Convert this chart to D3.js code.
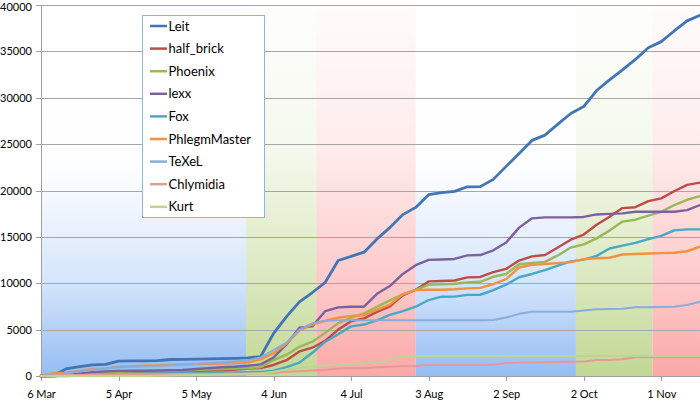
<!DOCTYPE html>
<html lang="en">
<head>
  <meta charset="UTF-8">
  <title>Cumulative totals</title>
  <script src="https://cdn.jsdelivr.net/npm/d3@7"></script>
  <style>
    body { margin: 0; background: #fff; }
    .axis text { font-family: Lato, "Open Sans", sans-serif; font-size: 11px; fill: #000; }
    .axis path, .axis line { stroke: #a0a0a0; shape-rendering: crispEdges; }
    .grid line { stroke: #a6a6a6; shape-rendering: crispEdges; }
    .legend text { font-family: Lato, "Open Sans", sans-serif; font-size: 13px; fill: #000; }
  </style>
</head>
<body>
<script>
  // sampled every 5 days from 6 Mar to 16 Nov
  const leit = [0, 50, 800, 1000, 1200, 1250, 1600, 1620, 1640, 1650, 1780, 1800, 1820, 1850, 1880, 1900, 1950, 2100,
    4600, 6400, 8000, 9000, 10100, 12450, 12900, 13350, 14780, 16000, 17400, 18180, 19550, 19760, 19900, 20400, 20420,
    21200, 22600, 24000, 25400, 25970, 27150, 28300, 29050, 30780, 31920, 33000, 34130, 35400, 36050, 37200, 38290, 38900];
  const halfBrick = [0, 0, 80, 150, 250, 350, 420, 450, 470, 480, 500, 520, 550, 580, 620, 700, 800, 850,
    1190, 1700, 2650, 3050, 3800, 5000, 5900, 6220, 6900, 7500, 8700, 9300, 10200, 10250, 10300, 10630, 10680,
    11200, 11550, 12450, 12900, 13040, 13850, 14700, 15250, 16300, 17170, 18100, 18200, 18850, 19150, 19920, 20600, 20850];
  const phoenix = [0, 0, 100, 200, 300, 400, 450, 480, 500, 520, 550, 600, 650, 700, 750, 800, 850, 950,
    1720, 2300, 3150, 3700, 4650, 5700, 6300, 6760, 7470, 8150, 8800, 9280, 9830, 9880, 9950, 10080, 10160,
    10700, 11000, 12050, 12200, 12300, 13000, 13850, 14200, 14840, 15680, 16650, 16850, 17300, 17700, 18430, 19000, 19400];
  const lexx = [0, 0, 100, 250, 400, 500, 550, 560, 570, 600, 620, 650, 750, 850, 950, 1000, 1100, 1250,
    2000, 3400, 5200, 5350, 7000, 7400, 7470, 7470, 8860, 9700, 11000, 11950, 12520, 12560, 12620, 13000, 13040,
    13550, 14400, 16000, 17000, 17100, 17100, 17100, 17150, 17420, 17480, 17530, 17710, 17710, 17710, 17710, 17890, 18430];
  const fox = [0, 0, 0, 50, 100, 150, 200, 220, 250, 260, 270, 280, 300, 320, 350, 380, 400, 450,
    570, 950, 1450, 2500, 3700, 4500, 5350, 5550, 6000, 6600, 7000, 7470, 8190, 8550, 8560, 8750, 8760,
    9250, 9850, 10650, 11000, 11420, 11900, 12350, 12550, 12950, 13750, 14050, 14350, 14750, 15100, 15700, 15810, 15810];
  const phlegmMaster = [0, 300, 350, 550, 750, 800, 1000, 1050, 1100, 1150, 1200, 1250, 1280, 1320, 1350, 1400, 1450, 1800,
    2450, 3500, 4900, 5550, 5950, 6300, 6480, 6550, 7150, 7700, 8800, 9270, 9300, 9300, 9350, 9450, 9500,
    9900, 10450, 11700, 11980, 12080, 12170, 12280, 12600, 12700, 12750, 13100, 13150, 13200, 13250, 13290, 13450, 13950];
  const texel = [0, 100, 300, 500, 700, 800, 950, 1000, 1050, 1100, 1150, 1200, 1300, 1400, 1500, 1600, 1700,
    2000, 2800, 3600, 5000, 5700, 5950, 6000, 6000, 6000, 6000, 6000, 6000, 6000, 6000, 6000, 6000, 6000, 6000,
    6030, 6300, 6700, 6930, 6930, 6930, 6930, 7050, 7200, 7220, 7250, 7400, 7420, 7450, 7470, 7650, 8010];
  const chlymidia = [0, 50, 100, 120, 150, 160, 180, 190, 200, 200, 210, 220, 230, 240, 250, 260, 280, 300,
    320, 450, 520, 600, 650, 800, 830, 830, 950, 1000, 1050, 1080, 1190, 1190, 1190, 1190, 1190,
    1200, 1400, 1440, 1460, 1480, 1500, 1530, 1560, 1720, 1720, 1800, 2020, 2020, 2020, 2020, 2020, 2020];
  const kurt = [0, 0, 0, 0, 0, 0, 0, 0, 0, 20, 50, 80, 100, 120, 150, 200, 250, 300,
    450, 700, 900, 1000, 1150, 1250, 1300, 1370, 1430, 1800, 2150, 2150, 2150, 2150, 2150, 2150, 2150,
    2150, 2150, 2150, 2150, 2150, 2150, 2150, 2150, 2150, 2150, 2150, 2150, 2150, 2150, 2150, 2150, 2150];

  const seriesNames = ['Leit', 'half_brick', 'Phoenix', 'lexx', 'Fox', 'PhlegmMaster', 'TeXeL', 'Chlymidia', 'Kurt'];
  const seriesValues = [leit, halfBrick, phoenix, lexx, fox, phlegmMaster, texel, chlymidia, kurt];
  const seriesColors = ['#4275b6', '#be4b48', '#98b954', '#7d60a0', '#46aac5', '#f39140', '#88acdc', '#e39a98', '#bcd68f'];
  const seriesWidths = [2.8, 2.4, 2.4, 2.4, 2.4, 2.4, 2, 2, 2];

  const xTickLabels = ['2011-03-06', '2011-04-05', '2011-05-05', '2011-06-04', '2011-07-04',
    '2011-08-03', '2011-09-02', '2011-10-02', '2011-11-01'];
  const yTickLabels = [0, 5000, 10000, 15000, 20000, 25000, 30000, 35000, 40000];

  // shaded periods in the background
  const bandEdges = ['2011-03-06 00:00', '2011-05-24 08:00', '2011-06-20 12:00', '2011-07-29 00:00',
    '2011-09-29 00:00', '2011-10-28 14:00', '2011-11-16 00:00'];
  const bandKinds = ['blue', 'green', 'red', 'blue', 'green', 'red'];

  const width = 700;
  const height = 401;
  const plotLeft = 41, plotRight = 700, plotTop = 5, plotBottom = 376;

  const parseDay = d3.utcParse('%Y-%m-%d');
  const parseTime = d3.utcParse('%Y-%m-%d %H:%M');
  const start = parseDay('2011-03-06');
  const end = parseDay('2011-11-16');
  const dates = d3.utcDay.range(start, d3.utcDay.offset(end, 1), 5);

  const x = d3.scaleUtc().domain([start, end]).range([plotLeft, plotRight]);
  const y = d3.scaleLinear().domain([0, 40000]).range([plotBottom, plotTop]);

  const svg = d3.select('body').append('svg')
    .attr('width', width)
    .attr('height', height);

  // gradients for the bands
  const gradStops = {
    blue: { color: '#8fb9f3', stops: [[0, 0], [0.45, 0.02], [0.75, 0.38], [1, 0.95]] },
    green: { color: '#bcd48a', stops: [[0, 0.02], [0.4, 0.16], [0.75, 0.55], [1, 0.92]] },
    red: { color: '#fba3a3', stops: [[0, 0.04], [0.4, 0.22], [0.75, 0.58], [1, 0.95]] }
  };
  const defs = svg.append('defs');
  Object.keys(gradStops).forEach(k => {
    const g = defs.append('linearGradient')
      .attr('id', 'grad-' + k)
      .attr('gradientUnits', 'userSpaceOnUse')
      .attr('x1', 0).attr('x2', 0)
      .attr('y1', plotTop).attr('y2', plotBottom);
    gradStops[k].stops.forEach(s => {
      g.append('stop')
        .attr('offset', s[0])
        .attr('stop-color', gradStops[k].color)
        .attr('stop-opacity', s[1]);
    });
  });

  svg.append('g').selectAll('rect')
    .data(bandKinds)
    .enter()
    .append('rect')
    .attr('x', (d, i) => x(parseTime(bandEdges[i])))
    .attr('width', (d, i) => x(parseTime(bandEdges[i + 1])) - x(parseTime(bandEdges[i])))
    .attr('y', plotTop)
    .attr('height', plotBottom - plotTop)
    .attr('fill', d => 'url(#grad-' + d + ')');

  // gridlines
  svg.append('g')
    .attr('class', 'grid')
    .selectAll('line')
    .data(yTickLabels.filter(v => v > 0))
    .enter()
    .append('line')
    .attr('x1', plotLeft).attr('x2', plotRight)
    .attr('y1', d => Math.round(y(d)) + 0.5)
    .attr('y2', d => Math.round(y(d)) + 0.5);

  // axes
  const yAxis = d3.axisLeft(y).tickValues(yTickLabels).tickFormat(d3.format('d')).tickSize(5).tickPadding(4);
  svg.append('g')
    .attr('class', 'axis')
    .attr('transform', `translate(${plotLeft},0)`)
    .call(yAxis)
    .call(g => g.select('.domain').attr('d', `M0.5,${plotTop}V${plotBottom}`))
    .call(g => g.selectAll('.tick text').filter(d => d === 40000).attr('y', 2));

  const xAxis = d3.axisBottom(x)
    .tickValues(xTickLabels.map(parseDay))
    .tickFormat(d3.utcFormat('%-d %b'))
    .tickSize(5)
    .tickPadding(9);
  svg.append('g')
    .attr('class', 'axis')
    .attr('transform', `translate(0,${plotBottom})`)
    .call(xAxis)
    .call(g => g.select('.domain').attr('d', `M${plotLeft},0.5H${plotRight}`));

  // series lines
  const line = d3.line()
    .x((d, i) => x(dates[i]))
    .y(d => y(d));

  svg.append('g').selectAll('path')
    .data(seriesValues)
    .enter()
    .append('path')
    .attr('d', d => line(d))
    .attr('fill', 'none')
    .attr('stroke', (d, i) => seriesColors[i])
    .attr('stroke-width', (d, i) => seriesWidths[i])
    .attr('stroke-linejoin', 'round')
    .attr('stroke-linecap', 'round');

  // legend
  const legend = svg.append('g').attr('class', 'legend');
  legend.append('rect')
    .attr('x', 142.5).attr('y', 15.5)
    .attr('width', 122).attr('height', 202)
    .attr('fill', '#fff')
    .attr('stroke', '#8eb4e3');
  const items = legend.selectAll('.item')
    .data(seriesNames)
    .enter()
    .append('g')
    .attr('class', 'item')
    .attr('transform', (d, i) => `translate(0,${26 + i * 22.6})`);
  items.append('line')
    .attr('x1', 150).attr('x2', 167)
    .attr('stroke', (d, i) => seriesColors[i])
    .attr('stroke-width', 2.5);
  items.append('text')
    .attr('x', 168.5)
    .attr('dy', '0.36em')
    .text(d => d);
</script>
</body>
</html>
